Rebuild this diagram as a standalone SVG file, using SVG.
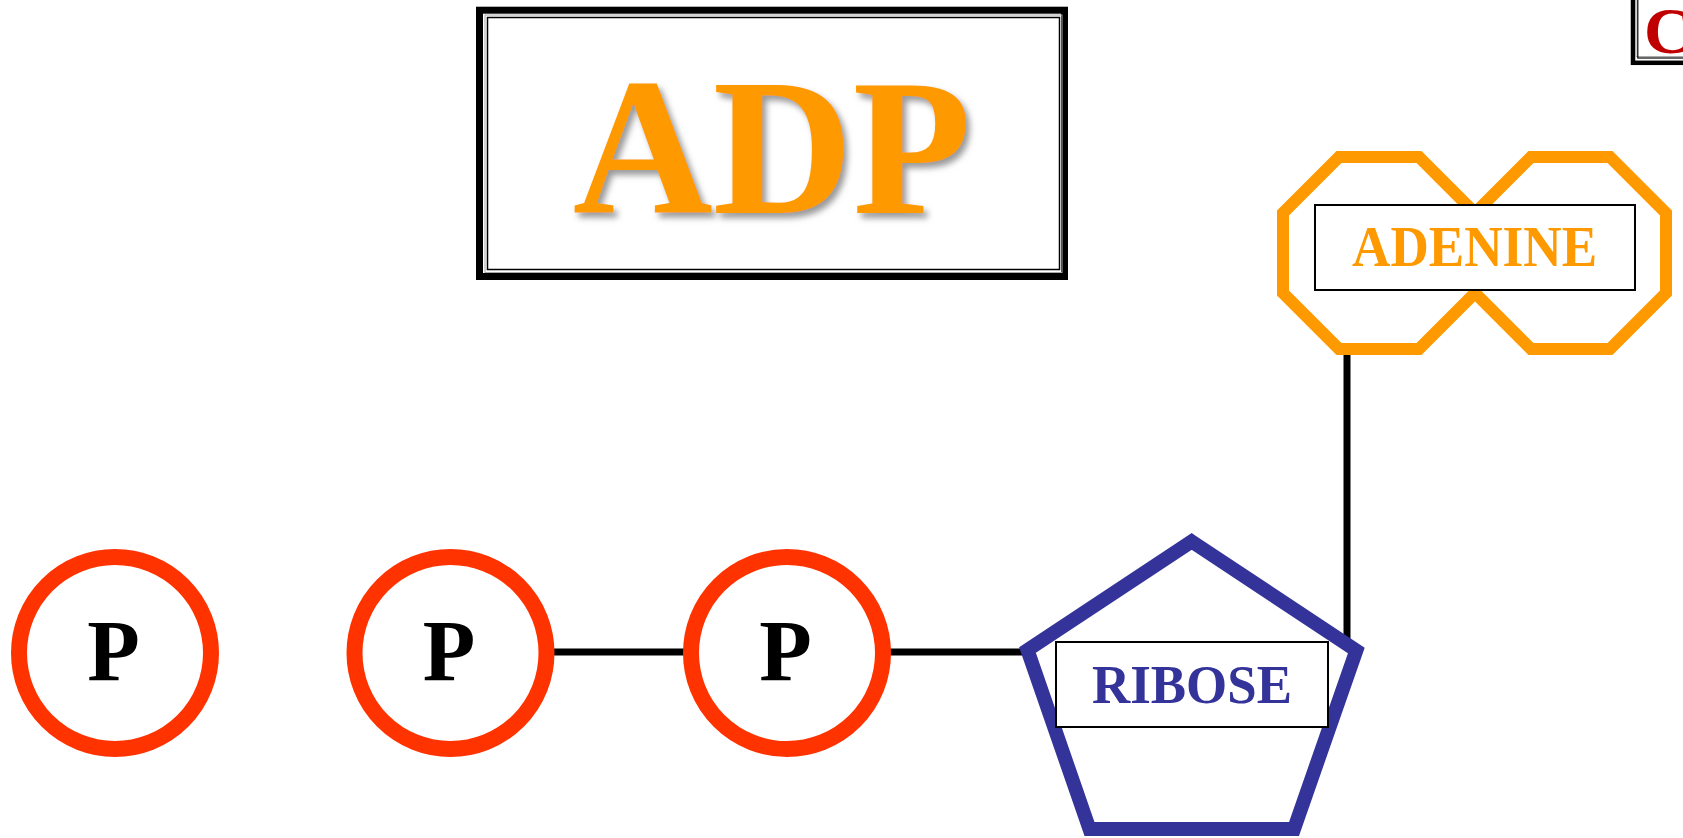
<svg xmlns="http://www.w3.org/2000/svg" width="1683" height="838" viewBox="0 0 1683 838">
<defs>
<style>
.conn{stroke:#000;stroke-width:7;fill:none}
.phos{fill:#fff;stroke:#FF3300;stroke-width:16}
.ptxt{font-family:"Liberation Serif","Times New Roman",serif;font-weight:bold;font-size:86px;fill:#000;text-anchor:middle}
.lbl{fill:#fff;stroke:#000;stroke-width:2}
.serif{font-family:"Liberation Serif","Times New Roman",serif;font-weight:bold;text-anchor:middle}
</style>
<filter id="sh" x="-10%" y="-10%" width="130%" height="130%">
<feDropShadow dx="4" dy="5" stdDeviation="3" flood-color="#777" flood-opacity="0.75"/>
</filter>
</defs>
<rect width="1683" height="838" fill="#fff"/>

<g id="connectors">
<line class="conn" x1="1347" y1="345" x2="1347" y2="645"/>
<line class="conn" x1="550" y1="652" x2="686" y2="652"/>
<line class="conn" x1="887" y1="652" x2="1025" y2="652"/>
</g>

<g id="title">
<rect x="479.5" y="10.2" width="585" height="266.3" fill="#fff" stroke="#000" stroke-width="7"/>
<rect x="485" y="15" width="577" height="257.5" fill="none" stroke="#aaa" stroke-width="1"/>
<rect x="487.5" y="17.5" width="572" height="252" fill="none" stroke="#000" stroke-width="1.5"/>
<text class="serif" x="772" y="213" font-size="194" fill="#FF9900" filter="url(#sh)">ADP</text>
</g>

<g id="cbox">
<rect x="1633" y="-20" width="80" height="82.8" fill="#fff" stroke="#000" stroke-width="4.5"/>
<rect x="1636" y="-20" width="70" height="76.5" fill="none" stroke="#aaa" stroke-width="1"/>
<rect x="1637.8" y="-20" width="70" height="78" fill="none" stroke="#000" stroke-width="1.2"/>
<text x="1644" y="53" font-family="'Liberation Serif','Times New Roman',serif" font-weight="bold" font-size="66" fill="#C00000">C</text>
</g>

<g id="adenine">
<path d="M1339,157 L1419,157 L1475,213 L1531,157 L1610,157 L1666,213 L1666,293 L1610,349 L1531,349 L1475,293 L1419,349 L1339,349 L1283,293 L1283,213 Z" fill="#fff" stroke="#FF9900" stroke-width="12" stroke-linejoin="miter"/>
<rect class="lbl" x="1315" y="205" width="320" height="85"/>
<text class="serif" x="1474.6" y="266" font-size="56" fill="#FF9900" textLength="245" lengthAdjust="spacingAndGlyphs">ADENINE</text>
</g>

<g id="ribose">
<polygon points="1191.7,541.5 1356.3,650.5 1294,829 1089.5,829 1027.5,650" fill="#fff" stroke="#333399" stroke-width="14" stroke-linejoin="miter"/>
<rect class="lbl" x="1056" y="642" width="272" height="85"/>
<text class="serif" x="1192" y="703" font-size="55" fill="#333399" textLength="200" lengthAdjust="spacingAndGlyphs">RIBOSE</text>
</g>

<g id="phosphate1">
<circle class="phos" cx="115" cy="653" r="96"/>
<text class="ptxt" x="113.5" y="680">P</text>
</g>
<g id="phosphate2">
<circle class="phos" cx="450.5" cy="653" r="96"/>
<text class="ptxt" x="449" y="680">P</text>
</g>
<g id="phosphate3">
<circle class="phos" cx="787" cy="653" r="96"/>
<text class="ptxt" x="785.5" y="680">P</text>
</g>
</svg>
